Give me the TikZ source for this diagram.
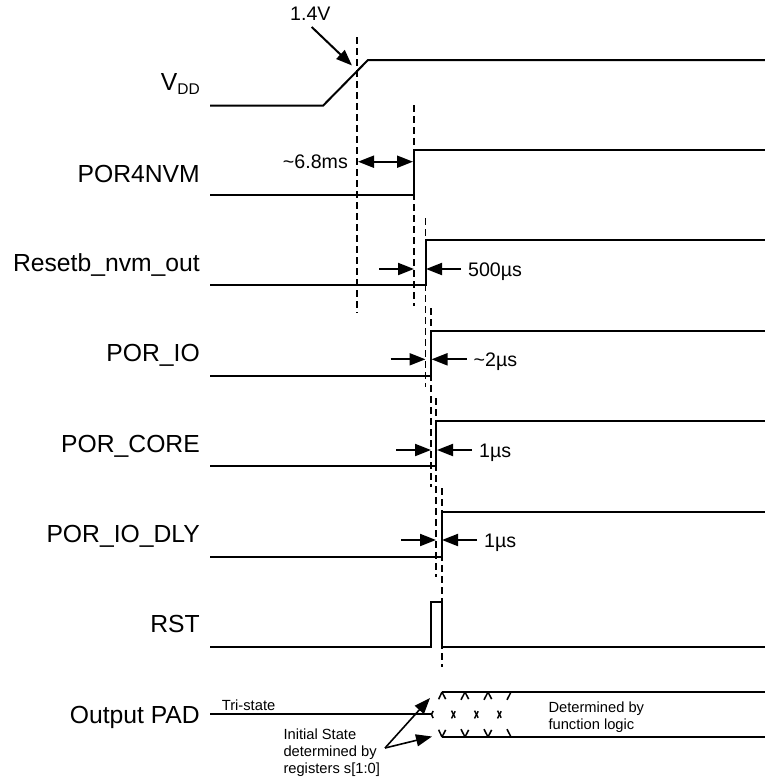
\documentclass[tikz,border=0pt]{standalone}
\usepackage{fontspec}
\setmainfont{Liberation Sans}
\usetikzlibrary{arrows.meta}

\begin{document}
\begin{tikzpicture}[
        x=1pt, y=-1pt,
        sig/.style={line width=2pt},
        bus/.style={line width=1.6pt},
        guide/.style={line width=1.8pt, dash pattern=on 7pt off 4pt},
        xing/.style={line width=1.5pt, dash pattern=on 8pt off 12.9pt},
        dimarr/.style={-{Triangle[length=16pt,width=12pt]}, line width=2pt},
        dimboth/.style={{Triangle[length=16pt,width=12pt]}-{Triangle[length=16pt,width=12pt]}, line width=2pt},
        siglabel/.style={anchor=base east, inner sep=0pt, font=\fontsize{24.7}{28}\selectfont},
        timelabel/.style={anchor=base west, inner sep=0pt, font=\fontsize{19.6}{22}\selectfont},
        notelabel/.style={anchor=base west, inner sep=0pt, align=left, font=\fontsize{14.7}{16.7}\selectfont},
    ]
    \useasboundingbox (0,0) rectangle (765,777);

    % ---- Left column: signal names ----
    \node[siglabel] (VDD) at (200,90) {V\raisebox{-4pt}{\fontsize{15.5}{16}\selectfont DD}};
    \node[siglabel] (POR4NVM) at (200,182) {POR4NVM};
    \node[siglabel] (RESETB) at (200,271.7) {Resetb\_nvm\_out};
    \node[siglabel] (PORIO) at (200,361.7) {POR\_IO};
    \node[siglabel] (PORCORE) at (200,452.7) {POR\_CORE};
    \node[siglabel] (PORIODLY) at (200,542.7) {POR\_IO\_DLY};
    \node[siglabel] (RST) at (200,632.7) {RST};
    \node[siglabel] (PAD) at (200,723.3) {Output PAD};

    % ---- Waveforms ----
    \draw[sig] (210,105.7) -- (323,105.7) -- (368,60) -- (765,60);
    \foreach \lo/\sx in {195.3/414, 285/425.5, 375.7/431, 465.7/436, 556.7/442} {
        \draw[sig] (210,\lo) -- (\sx,\lo) -- (\sx,\lo-45) -- (765,\lo-45);
    }
    \draw[sig] (210,647) -- (431,647) -- (431,601.7) -- (442,601.7) -- (442,647) -- (765,647);

    % ---- Output PAD: tri-state, then bus ----
    \draw[sig] (210,714) -- (431.5,714);
    \draw[bus] (442,692) -- (765,692);
    \draw[bus] (442,737) -- (765,737);
    \draw[xing] (442,692) -- (431.5,714.5);
    \draw[xing] (442,737) -- (431.5,714.5);
    \foreach \xa in {442,465,488} {
        \draw[xing] (\xa,692) -- (\xa+23,737);
        \draw[xing] (\xa,737) -- (\xa+23,692);
    }

    % ---- Dashed timing guides ----
    \foreach \gx/\gt/\gb in {357.3/37/313, 414/105/306, 425.5/218/387, 431/308/487, 436/398/577, 442/488/667} {
        \draw[guide] (\gx,\gt) -- (\gx,\gb);
    }

    % ---- 1.4V threshold ----
    \node[timelabel] (V14) at (290,20.7) {1.4V};
    \draw[dimarr] (311.7,27) -- (352,65.5);

    % ---- Delays ----
    \draw[dimboth] (358,161.7) -- (413,161.7);
    \node[timelabel, anchor=base east] (T68) at (348,168.7) {\textasciitilde 6.8ms};
    \foreach \y/\xl/\xr/\txt [count=\i] in {269/414/426/500µs, 359.3/425.5/431.5/\textasciitilde 2µs, 450/431/437/1µs, 540/436/442/1µs} {
        \draw[dimarr] (\xl-35,\y) -- (\xl,\y);
        \draw[dimarr] (\xr+35,\y) -- (\xr,\y);
        \node[timelabel] (T\i) at (\xr+42,\y+7) {\txt};
    }

    % ---- Output PAD notes ----
    \node[notelabel] (TRI) at (221.7,710) {Tri-state};
    \node[notelabel] (FUNC) at (548.3,729.3) {Determined by\\function logic};
    \node[notelabel] (INIT) at (283.3,773.3) {Initial State\\determined by\\registers s[1:0]};
    \coordinate (INITSRC) at (385,748);
    \draw[dimarr, line width=1.6pt] (INITSRC) -- (430,698);
    \draw[dimarr, line width=1.6pt] (INITSRC) -- (432,736.5);

\end{tikzpicture}
\end{document}
